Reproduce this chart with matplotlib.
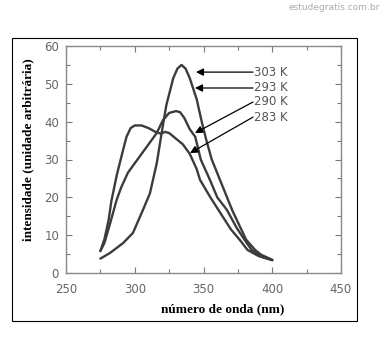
import matplotlib
matplotlib.use("Agg")
import matplotlib.pyplot as plt
from matplotlib.patches import Rectangle

# values
x_303 = [275, 282, 291.5, 298.7, 306, 311, 316, 320, 323, 328, 331, 334, 337, 340,
         345, 348.7, 352, 356, 362, 371, 381, 387.5, 392, 400]
y_303 = [3.8, 5.3, 7.9, 10.6, 16.7, 21, 29, 38, 44.4, 51.5, 54, 55, 54, 51.5,
         46, 40, 35.2, 30, 24.6, 16.5, 8.8, 6.1, 4.8, 3.5]

x_290 = [275, 278, 282, 286.8, 290, 295, 300, 307, 312, 316, 320.5, 325, 330,
         333, 336, 340, 344, 348, 354.7, 360, 367, 374, 380, 385, 392, 400]
y_290 = [5.8, 8, 13, 19.3, 22.5, 26.5, 29, 32.5, 35, 37, 40.4, 42.3, 42.8,
         42.5, 41, 38, 36, 30, 24.6, 20, 16.7, 12, 8.7, 6.1, 4.3, 3.4]

x_283 = [275, 278, 281, 283, 287, 291.5, 294, 297, 300, 305, 310, 315, 319, 322,
         325, 330, 335, 340, 345, 347.5, 355, 360.8, 370, 376.5, 382, 390, 400]
y_283 = [5.8, 9, 14, 19, 26, 32.5, 36, 38.3, 39, 39, 38.3, 37.3, 36.8, 37.3,
         37, 35.5, 34, 31.5, 27.5, 24.6, 20, 16.7, 11.5, 8.7, 6.1, 4.5, 3.4]

labels = ['303 K', '293 K', '290 K', '283 K']
label_y = [53.1, 48.9, 45.2, 41.2]
tip_x = [344.5, 343.8, 343.8, 340.2]
tip_y = [53.1, 48.9, 37.0, 31.7]

W, H = 382, 341
fig = plt.figure(figsize=(W / 100, H / 100), dpi=100)
ax = fig.add_axes([66 / W, 1 - 273 / H, 275 / W, 227 / H])

line_c = '#3c3c3c'
for xs, ys in [(x_303, y_303), (x_290, y_290), (x_283, y_283)]:
    ax.plot(xs, ys, color=line_c, lw=1.7, solid_capstyle='round')

for lab, ly, tx, ty in zip(labels, label_y, tip_x, tip_y):
    ax.annotate('', xy=(tx, ty), xytext=(386, ly),
                arrowprops=dict(arrowstyle='-|>', color='black', lw=0.9,
                                mutation_scale=11, shrinkA=0, shrinkB=0))
    ax.text(387, ly, lab, fontsize=8.5, color='#555555', va='center', ha='left')

ax.set_xlim(250, 450)
ax.set_ylim(0, 60)
ax.set_xticks(range(250, 451, 50))
ax.set_xticks(range(275, 450, 50), minor=True)
ax.set_yticks(range(0, 61, 10))
ax.set_yticks(range(5, 60, 10), minor=True)
ax.tick_params(which='both', direction='in', top=True, right=True,
               colors='#777777', labelcolor='#666666', labelsize=8.5, width=0.8)
ax.tick_params(which='major', length=4)
ax.tick_params(which='minor', length=3)
ax.tick_params(axis='x', pad=7)
ax.tick_params(axis='y', pad=5)
for s in ax.spines.values():
    s.set_color('#888888')
    s.set_linewidth(1.0)

fig.text(223 / W, 1 - 309 / H, 'número de onda (nm)', fontsize=9.5,
         fontweight='bold', family='Liberation Serif', ha='center', va='center')
fig.text(28 / W, 1 - 150 / H, 'intensidade (unidade arbitrária)', fontsize=9.5,
         fontweight='bold', family='Liberation Serif', rotation=90,
         ha='center', va='center')
fig.text(380 / W, 1 - 7 / H, 'estudegratis.com.br', fontsize=6.5,
         color='#aaaaaa', ha='right', va='center')

fig.patches.append(Rectangle((12 / W, 1 - 321 / H), 345 / W, 283 / H,
                             transform=fig.transFigure, fill=False,
                             edgecolor='black', lw=0.8))

fig.savefig('out.png', dpi=100)
